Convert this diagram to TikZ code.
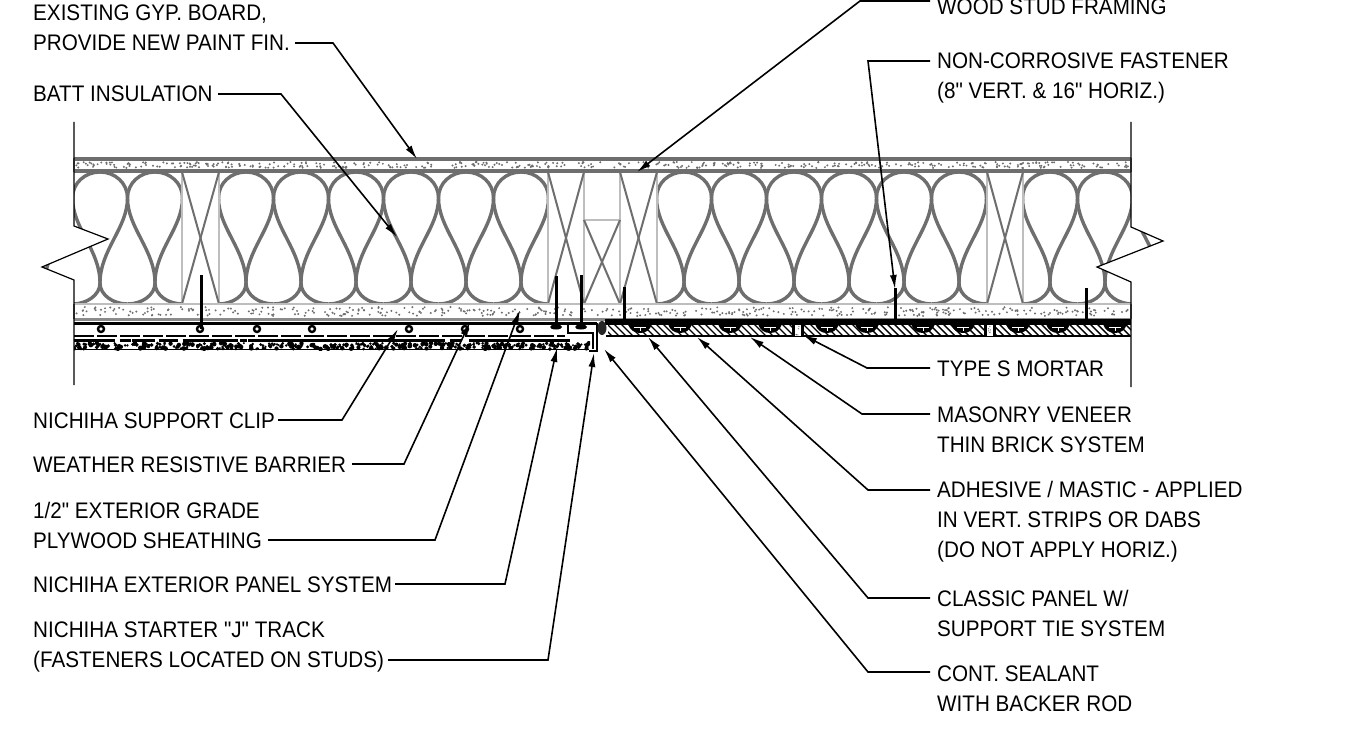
\documentclass[tikz,border=0pt]{standalone}
\usepackage{fontspec}
\setmainfont[FakeStretch=0.918,Ligatures=TeXOff]{Liberation Sans}
\usetikzlibrary{arrows.meta,calc}
\definecolor{battgray}{HTML}{6E6E6E}
\definecolor{studgray}{HTML}{BEBEBE}
\tikzset{
  callout/.style={anchor=base west,inner sep=0pt,align=left,font=\fontsize{22.5}{30}\selectfont},
  leader/.style={line width=1.6pt,-{Latex[length=14pt,width=7pt]}},
  batt/.style={line width=3.4pt,battgray},
  studedge/.style={line width=1.8pt,studgray},
  studcross/.style={line width=2pt,battgray},
  fastener/.style={line width=3pt,black},
}
\newcommand{\battstrand}[1]{%
  (#1,172) .. controls (#1+15,172) and (#1+27.5,183) .. (#1+27.5,198)
  .. controls (#1+27.5,228) and (#1+55,250) .. (#1+55,283)
  .. controls (#1+55,295) and (#1+68,304) .. (#1+82.5,304)
  .. controls (#1+97,304) and (#1+110,295) .. (#1+110,283)
  .. controls (#1+110,250) and (#1+137.5,228) .. (#1+137.5,198)
  .. controls (#1+137.5,183) and (#1+150,172) .. (#1+165,172)}
\begin{document}
\begin{tikzpicture}[x=1pt,y=-1pt]
  \useasboundingbox (0,0) rectangle (1349,738);
  \pgfmathsetseed{4711}

  % batts
  \begin{scope}
    \clip (74,172) -- (74,226) -- (108,239) -- (42,267) -- (74,280) -- (74,304) -- (182,304) -- (182,172) -- cycle;
    \foreach \x in {-175,-120,-65,-10,45,100,155} \draw[batt] \battstrand{\x};
  \end{scope}
  \begin{scope}
    \clip (219,172) rectangle (548,304);
    \foreach \x in {81,136,191,246,301,356,411,466,521} \draw[batt] \battstrand{\x};
  \end{scope}
  \begin{scope}
    \clip (657,172) rectangle (987,304);
    \foreach \x in {519,574,629,684,739,794,849,904,959} \draw[batt] \battstrand{\x};
  \end{scope}
  \begin{scope}
    \clip (1023,172) -- (1131,172) -- (1131,227) -- (1163,241) -- (1097,267) -- (1131,282) -- (1131,304) -- (1023,304) -- cycle;
    \foreach \x in {885,940,995,1050,1105} \draw[batt] \battstrand{\x};
  \end{scope}

  % studs
  \foreach \a/\b in {182/219,548/584,620/657,987/1023} {
    \draw[studedge] (\a,172) rectangle (\b,304);
    \draw[studcross] (\a,172) -- (\b,304);
    \draw[studcross] (\b,172) -- (\a,304);
  }
  \draw[studedge] (584,220) -- (620,220);
  \draw[studcross] (584,220) -- (620,304);
  \draw[studcross] (620,220) -- (584,304);

  % gyp board and sheathing
  \draw[line width=4pt,battgray] (74,159) -- (1131,159);
  \draw[line width=4pt,battgray] (74,171) -- (1131,171);
  \draw[line width=1.2pt,battgray] (74,158) -- (74,172);
  \draw[line width=2.4pt,studgray] (74,304) -- (1131,304);
  \draw[line width=3pt,battgray!80] (74,319) -- (1131,319);
  \draw[line width=1.4pt,battgray] (74,304) -- (74,319);
  \draw[line width=1.4pt,battgray] (1131,304) -- (1131,319);
  \draw[line width=1.4pt,battgray] (1131,158) -- (1131,172);
  \foreach \i in {1,...,430} {
    \fill[battgray] (75+rnd*1055,162+rnd*6) circle (1.1);
    \fill[battgray] (76+rnd*1052,307+rnd*9) circle (1.1);
  }

  % panel side
  \draw[line width=3pt] (74,323.5) -- (597,323.5);
  \draw[line width=1.6pt] (74,349.5) -- (589,349.5);
  \draw[line width=2pt] (568,323) -- (568,333) -- (593,333) -- (593,349);
  \draw[line width=2.4pt] (597,323) -- (597,351) -- (589,351);
  \begin{scope}
    \clip (74,333) rectangle (590,350);
    \draw[line width=2pt,dash pattern=on 20pt off 3pt] (74,336) -- (565,336);
    \foreach \i in {1,...,95} \draw[line width=3.4pt] (74+rnd*490,340.5) -- ++(6+rnd*14,0);
    \foreach \i in {1,...,420} \fill (74+rnd*516,343+rnd*6) circle (1.1+rnd*1.3);
  \end{scope}
  \foreach \x in {101,200,257,312,409,465,520} {
    \draw[line width=2.4pt,fill=white] (\x,329) circle (3);
  }

  % brick side
  \begin{scope}
    \clip (608,324) rectangle (1131,336);
    \foreach \x in {600,607,...,1140} \draw[line width=1.4pt] (\x,324) -- (\x+12,336);
  \end{scope}
  \fill (605,319) rectangle (1131,325);
  \draw[line width=2.4pt] (606,336) -- (1131,336);
  \foreach \x in {640,680,730,770,827,867,923,963,1018,1058,1115} {
    \fill (\x-12,324) -- (\x+12,324) .. controls (\x+10,330) and (\x+6,333) .. (\x,333)
      .. controls (\x-6,333) and (\x-10,330) .. (\x-12,324) -- cycle;
    \draw[white,line width=0.8pt] (\x-6,327.5) -- (\x+6,327.5) (\x,327.5) -- (\x,331);
  }
  \foreach \x in {798,990} {
    \fill[white] (\x-5,325) rectangle (\x+5,336);
    \draw[line width=2.6pt] (\x-4.5,324) -- (\x-4.5,337) (\x+4.5,324) -- (\x+4.5,337);
    \foreach \i in {1,...,6} \fill[battgray] (\x-2+rnd*4,326+rnd*9) circle (0.6);
  }
  \fill[black!85] (602,328) ellipse (4.5 and 7);

  % fasteners
  \draw[fastener] (201,275) -- (201,329);
  \draw[fastener] (556,276) -- (556,326);
  \draw[fastener] (581,275) -- (581,326);
  \fill (556,327) ellipse (6 and 2.5);
  \fill (581,327) ellipse (6 and 2.5);
  \draw[fastener] (624,287) -- (624,320);
  \draw[fastener] (895,288) -- (895,320);
  \draw[fastener] (1086,288) -- (1086,320);

  % wall break lines
  \draw[line width=1.2pt] (74,122) -- (74,226) -- (108,239) -- (42,267) -- (74,280) -- (74,385);
  \draw[line width=1.2pt] (1131,122) -- (1131,227) -- (1163,241) -- (1097,267) -- (1131,282) -- (1131,387);

  % labels
  \node[callout] (gyptext) at (33,51) {EXISTING GYP. BOARD,\\PROVIDE NEW PAINT FIN.};
  \node[callout] (batttext) at (33,102) {BATT INSULATION};
  \node[callout] (cliptext) at (33,428) {NICHIHA SUPPORT CLIP};
  \node[callout] (wrbtext) at (33,472) {WEATHER RESISTIVE BARRIER};
  \node[callout] (plytext) at (33,548) {1/2" EXTERIOR GRADE\\PLYWOOD SHEATHING};
  \node[callout] (paneltext) at (33,592) {NICHIHA EXTERIOR PANEL SYSTEM};
  \node[callout] (tracktext) at (33,667) {NICHIHA STARTER "J" TRACK\\(FASTENERS LOCATED ON STUDS)};
  \node[callout] (studtext) at (937,15) {WOOD STUD FRAMING};
  \node[callout] (fastext) at (937,99) {NON-CORROSIVE FASTENER\\(8" VERT. \& 16" HORIZ.)};
  \node[callout] (mortext) at (937,376) {TYPE S MORTAR};
  \node[callout] (brktext) at (937,452) {MASONRY VENEER\\THIN BRICK SYSTEM};
  \node[callout] (adhtext) at (937,557) {ADHESIVE / MASTIC - APPLIED\\IN VERT. STRIPS OR DABS\\(DO NOT APPLY HORIZ.)};
  \node[callout] (clatext) at (937,636) {CLASSIC PANEL W/\\SUPPORT TIE SYSTEM};
  \node[callout] (seatext) at (937,711) {CONT. SEALANT\\WITH BACKER ROD};

  % leader ends
  \foreach \n/\sx/\sy/\bx/\tx/\ty in {
    gyp/295/43/333/417/159, batt/218/94/281/397/237,
    clip/278/420/342/398/329, wrb/352/464/404/470/322,
    ply/268/540/435/520/310, panel/395/584/505/557/348,
    track/388/660/548/594/353, stud/930/1/860/637/172,
    fas/930/61/868/895/289, mor/930/368/867/803/335,
    brk/930/414/862/750/337, adh/930/490/868/697/337,
    cla/930/598/868/648/337, sea/930/672/868/604/349} {
    \coordinate (\n start) at (\sx,\sy);
    \coordinate (\n bend) at (\bx,\sy);
    \coordinate (\n tip) at (\tx,\ty);
    \draw[leader] (\n start) -- (\n bend) -- (\n tip);
  }
\end{tikzpicture}
\end{document}
